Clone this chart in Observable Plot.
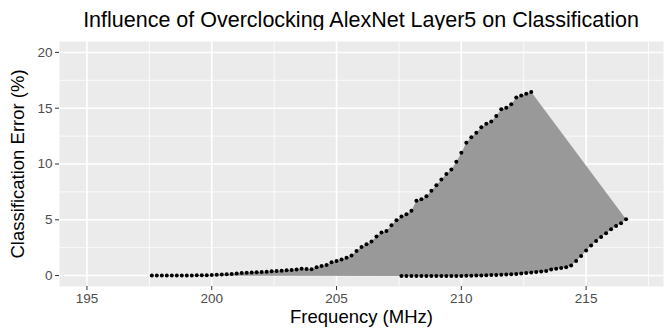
<!DOCTYPE html>
<html>
<head>
<meta charset="utf-8">
<script src="https://cdn.jsdelivr.net/npm/d3@7"></script>
<script src="https://cdn.jsdelivr.net/npm/@observablehq/plot@0.6"></script>
<style>
  body { margin: 0; background: #fff; font-family: "Liberation Sans", Arial, sans-serif; }
  #wrap { width: 665px; height: 328px; position: relative; overflow: hidden; }
  #title { position: absolute; left: 0; top: 0; width: 722px; height: 30px; line-height: 24px; padding-top: 8px; box-sizing: border-box; text-align: center; font-size: 21.5px; color: #000; white-space: nowrap; }
  #chart { position: absolute; left: 0; top: 30px; }
</style>
</head>
<body>
<div id="wrap">
  <div id="title">Influence of Overclocking AlexNet Layer5 on Classification</div>
  <div id="chart"></div>
</div>
<script>
// Upper branch (rising error)
const upperFreq = [197.6,197.8,198.0,198.2,198.4,198.6,198.8,199.0,199.2,199.4,199.6,199.8,200.0,200.2,200.4,200.6,200.8,201.0,201.2,201.4,201.6,201.8,202.0,202.2,202.4,202.6,202.8,203.0,203.2,203.4,203.6,203.8,204.0,204.2,204.4,204.6,204.8,205.0,205.2,205.4,205.6,205.8,206.0,206.2,206.4,206.6,206.8,207.0,207.2,207.4,207.6,207.8,208.0,208.2,208.4,208.6,208.8,209.0,209.2,209.4,209.6,209.8,210.0,210.2,210.4,210.6,210.8,211.0,211.2,211.4,211.6,211.8,212.0,212.2,212.4,212.6,212.8];
const upperErr = [0.00,0.00,0.00,0.00,0.00,0.00,0.00,0.01,0.01,0.02,0.02,0.03,0.05,0.07,0.09,0.12,0.15,0.18,0.22,0.26,0.28,0.30,0.32,0.35,0.38,0.40,0.43,0.47,0.50,0.55,0.62,0.58,0.56,0.75,0.85,0.95,1.20,1.30,1.45,1.60,1.80,2.20,2.55,2.80,3.05,3.50,3.85,4.00,4.50,4.95,5.30,5.50,5.80,6.70,6.85,7.10,7.60,8.10,8.60,9.10,9.50,10.20,11.00,11.90,12.40,12.80,13.30,13.60,13.80,14.30,14.90,15.05,15.35,15.95,16.15,16.30,16.45];
// Lower branch
const lowerFreq = [207.6,207.8,208.0,208.2,208.4,208.6,208.8,209.0,209.2,209.4,209.6,209.8,210.0,210.2,210.4,210.6,210.8,211.0,211.2,211.4,211.6,211.8,212.0,212.2,212.4,212.6,212.8,213.0,213.2,213.4,213.6,213.8,214.0,214.2,214.4,214.6,214.8,215.0,215.2,215.4,215.6,215.8,216.0,216.2,216.4,216.6];
const lowerErr = [-0.05,-0.05,-0.05,-0.05,-0.05,-0.05,-0.05,-0.05,-0.04,-0.04,-0.04,-0.03,-0.03,-0.02,-0.01,0.00,0.00,0.02,0.04,0.05,0.07,0.09,0.11,0.14,0.18,0.22,0.28,0.32,0.36,0.40,0.54,0.60,0.68,0.75,0.90,1.30,1.75,2.25,2.70,3.10,3.45,3.80,4.15,4.45,4.70,5.05];

const xTicks = [195, 200, 205, 210, 215];
const xMinor = [197.5, 202.5, 207.5, 212.5, 217.5];
const yTicks = [0, 5, 10, 15, 20];
const yMinor = [2.5, 7.5, 12.5, 17.5];

const upper = upperFreq.map((f, i) => ({f, e: upperErr[i]}));
const lower = lowerFreq.map((f, i) => ({f, e: lowerErr[i]}));
const polygon = upper.concat(lower.slice().reverse());
const points = upper.concat(lower);

const chart = Plot.plot({
  width: 665,
  height: 298,
  marginLeft: 59,
  marginRight: 2,
  marginTop: 11,
  marginBottom: 42,
  style: {fontFamily: "'Liberation Sans', Arial, sans-serif", background: "#fff", overflow: "visible"},
  x: {domain: [193.9, 218.1]},
  y: {domain: [-0.98, 20.98]},
  marks: [
    Plot.frame({fill: "#EBEBEB", stroke: "none"}),
    Plot.ruleX(xMinor, {stroke: "#fff", strokeWidth: 0.8}),
    Plot.ruleY(yMinor, {stroke: "#fff", strokeWidth: 0.8}),
    Plot.ruleX(xTicks, {stroke: "#fff", strokeWidth: 1.6}),
    Plot.ruleY(yTicks, {stroke: "#fff", strokeWidth: 1.6}),
    Plot.line(polygon, {x: "f", y: "e", z: null, fill: "#999999", stroke: "none", curve: "linear-closed"}),
    Plot.dot(points, {x: "f", y: "e", r: 2, fill: "#000", stroke: "none"}),
    Plot.axisX(xTicks, {tickSize: 4, tickPadding: 3, stroke: "#333", fill: "#4D4D4D", fontSize: 13.5, label: null}),
    Plot.axisY(yTicks, {tickSize: 4, tickPadding: 3, stroke: "#333", fill: "#4D4D4D", fontSize: 13.5, label: null}),
    Plot.text(["Frequency (MHz)"], {frameAnchor: "bottom", dy: 31, fontSize: 18.5, fill: "#000", textAnchor: "middle", lineAnchor: "middle"}),
    Plot.text(["Classification Error (%)"], {frameAnchor: "left", dx: -41, rotate: -90, fontSize: 18.5, fill: "#000", textAnchor: "middle", lineAnchor: "middle"})
  ]
});
document.getElementById("chart").appendChild(chart);
</script>
</body>
</html>
